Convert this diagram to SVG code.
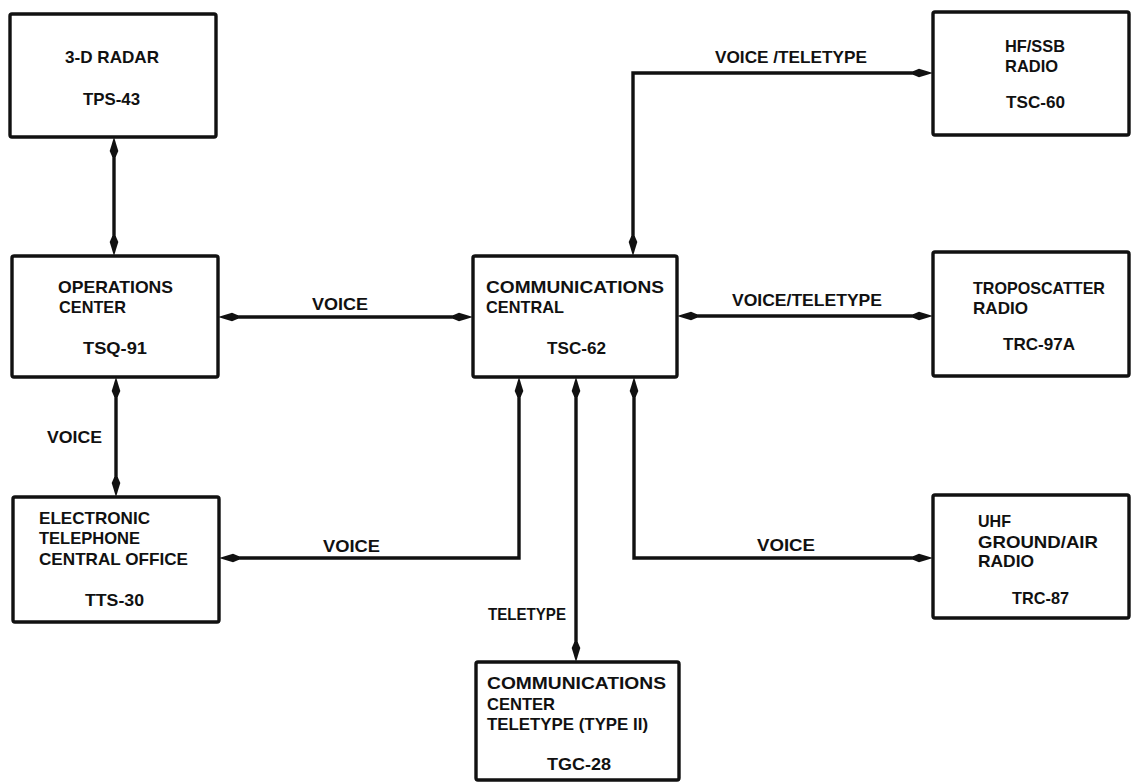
<svg xmlns="http://www.w3.org/2000/svg" width="1131" height="782" viewBox="0 0 1131 782">
<style>
.box{fill:#fff;stroke:#111;stroke-width:3.4}
.ln{fill:none;stroke:#111;stroke-width:3.4;marker-start:url(#arr);marker-end:url(#arr)}
text{font-family:"Liberation Sans",Arial,sans-serif;font-size:17px;font-weight:bold;fill:#111}
</style>
<defs>
<marker id="arr" markerUnits="userSpaceOnUse" viewBox="0 -5 20 10" refX="10" refY="0" markerWidth="20" markerHeight="10" orient="auto-start-reverse">
<path d="M0,-1.7 L6,-4.3 L20,0 L6,4.3 L0,1.7 Z" fill="#111"/>
</marker>
</defs>
<rect width="1131" height="782" fill="#fff"/>
<g id="connectors">
<path class="ln" d="M114,147 L114,246"/>
<path class="ln" d="M228,317 L463,317"/>
<path class="ln" d="M116,387 L116,487"/>
<path class="ln" d="M519,387 L519,558 L229,558"/>
<path class="ln" d="M576,387 L576,652"/>
<path class="ln" d="M634,387 L634,558 L923,558"/>
<path class="ln" d="M633,246 L633,73 L923,73"/>
<path class="ln" d="M687,316 L923,316"/>
<text x="312" y="310" textLength="56" lengthAdjust="spacingAndGlyphs">VOICE</text>
<text x="47" y="443" textLength="55" lengthAdjust="spacingAndGlyphs">VOICE</text>
<text x="323" y="552" textLength="57" lengthAdjust="spacingAndGlyphs">VOICE</text>
<text x="757" y="551" textLength="58" lengthAdjust="spacingAndGlyphs">VOICE</text>
<text x="488" y="620" textLength="78" lengthAdjust="spacingAndGlyphs">TELETYPE</text>
<text x="715" y="63" textLength="152" lengthAdjust="spacingAndGlyphs">VOICE /TELETYPE</text>
<text x="732" y="306" textLength="150" lengthAdjust="spacingAndGlyphs">VOICE/TELETYPE</text>
</g>
<g id="radar">
<rect class="box" x="10" y="14" width="206" height="123" rx="2"/>
<text x="65" y="63" textLength="94" lengthAdjust="spacingAndGlyphs">3-D RADAR</text>
<text x="83" y="105" textLength="57" lengthAdjust="spacingAndGlyphs">TPS-43</text>
</g>
<g id="ops">
<rect class="box" x="12" y="256" width="206" height="121" rx="2"/>
<text x="58" y="293" textLength="115" lengthAdjust="spacingAndGlyphs">OPERATIONS</text>
<text x="59" y="313" textLength="67" lengthAdjust="spacingAndGlyphs">CENTER</text>
<text x="83" y="354" textLength="64" lengthAdjust="spacingAndGlyphs">TSQ-91</text>
</g>
<g id="etco">
<rect class="box" x="13" y="497" width="206" height="125" rx="2"/>
<text x="39" y="524" textLength="111" lengthAdjust="spacingAndGlyphs">ELECTRONIC</text>
<text x="39" y="544" textLength="101" lengthAdjust="spacingAndGlyphs">TELEPHONE</text>
<text x="39" y="565" textLength="149" lengthAdjust="spacingAndGlyphs">CENTRAL OFFICE</text>
<text x="85" y="606" textLength="59" lengthAdjust="spacingAndGlyphs">TTS-30</text>
</g>
<g id="tsc62">
<rect class="box" x="473" y="256" width="204" height="121" rx="2"/>
<text x="486" y="293" textLength="178" lengthAdjust="spacingAndGlyphs">COMMUNICATIONS</text>
<text x="486" y="313" textLength="78" lengthAdjust="spacingAndGlyphs">CENTRAL</text>
<text x="547" y="354" textLength="59" lengthAdjust="spacingAndGlyphs">TSC-62</text>
</g>
<g id="hfssb">
<rect class="box" x="933" y="12" width="196" height="123" rx="2"/>
<text x="1005" y="52" textLength="60" lengthAdjust="spacingAndGlyphs">HF/SSB</text>
<text x="1005" y="72" textLength="53" lengthAdjust="spacingAndGlyphs">RADIO</text>
<text x="1006" y="108" textLength="59" lengthAdjust="spacingAndGlyphs">TSC-60</text>
</g>
<g id="tropo">
<rect class="box" x="933" y="252" width="196" height="124" rx="2"/>
<text x="973" y="294" textLength="132" lengthAdjust="spacingAndGlyphs">TROPOSCATTER</text>
<text x="973" y="314" textLength="55" lengthAdjust="spacingAndGlyphs">RADIO</text>
<text x="1003" y="350" textLength="72" lengthAdjust="spacingAndGlyphs">TRC-97A</text>
</g>
<g id="uhf">
<rect class="box" x="933" y="495" width="196" height="123" rx="2"/>
<text x="978" y="527" textLength="33" lengthAdjust="spacingAndGlyphs">UHF</text>
<text x="978" y="548" textLength="120" lengthAdjust="spacingAndGlyphs">GROUND/AIR</text>
<text x="978" y="567" textLength="56" lengthAdjust="spacingAndGlyphs">RADIO</text>
<text x="1012" y="604" textLength="57" lengthAdjust="spacingAndGlyphs">TRC-87</text>
</g>
<g id="tgc28">
<rect class="box" x="476" y="662" width="203" height="118" rx="2"/>
<text x="487" y="689" textLength="179" lengthAdjust="spacingAndGlyphs">COMMUNICATIONS</text>
<text x="487" y="710" textLength="68" lengthAdjust="spacingAndGlyphs">CENTER</text>
<text x="487" y="730" textLength="161" lengthAdjust="spacingAndGlyphs">TELETYPE (TYPE II)</text>
<text x="547" y="770" textLength="64" lengthAdjust="spacingAndGlyphs">TGC-28</text>
</g>
</svg>
